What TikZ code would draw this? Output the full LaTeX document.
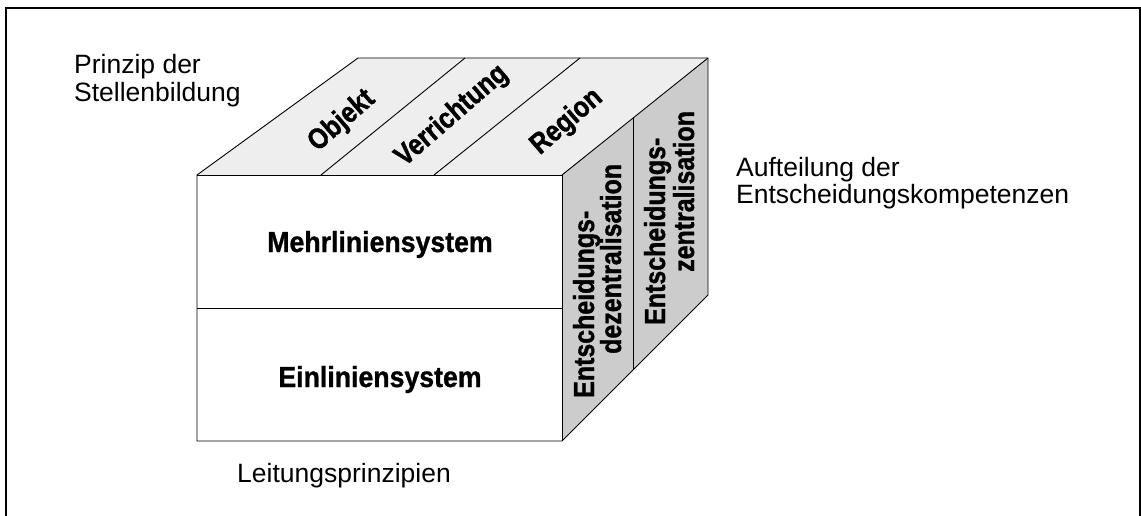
\documentclass[tikz,border=0pt]{standalone}
\usepackage{fontspec}
\setmainfont{Liberation Sans}
\newfontfamily\condsans[FakeStretch=0.86,FakeBold=1.2]{Liberation Sans Bold}
\newfontfamily\semicondsans[FakeStretch=0.92,FakeBold=1.0]{Liberation Sans Bold}
\definecolor{topgray}{gray}{0.935}
\definecolor{sidegray}{gray}{0.80}
\begin{document}
\begin{tikzpicture}[x=1pt,y=-1pt,
  edge/.style={draw=black, line width=0.9pt, line join=miter},
  plain/.style={inner sep=0pt, font=\fontsize{26.5}{28}\selectfont, align=left, anchor=base west},
  facelabel/.style={inner sep=0pt, font=\semicondsans\fontsize{29}{30}\selectfont, anchor=base},
  sidelabel/.style={inner sep=0pt, font=\condsans\fontsize{29}{30}\selectfont, rotate=90, anchor=base west},
  toplabel/.style={inner sep=0pt, font=\condsans\fontsize{29}{30}\selectfont, rotate=41, anchor=center}]
\useasboundingbox (0,0) rectangle (1141,516);

% open frame
\draw[line width=1.4pt] (6,516) -- (6,8) -- (1140,8) -- (1140,516);

% cube corners
\coordinate (FTL) at (197,175);
\coordinate (FTR) at (562,175);
\coordinate (FML) at (197,308);
\coordinate (FMR) at (562,308);
\coordinate (FBL) at (197,441);
\coordinate (FBR) at (562,441);
\coordinate (BTL) at (358,58);
\coordinate (BTR) at (708,58);
\coordinate (BBR) at (708,295);
% strip dividers on top and side
\coordinate (T1f) at (321,175);
\coordinate (T1b) at (465,58);
\coordinate (T2f) at (434,175);
\coordinate (T2b) at (580,58);
\coordinate (S1t) at (633,118);
\coordinate (S1b) at (633,370);

% faces
\fill[topgray] (FTL) -- (BTL) -- (BTR) -- (FTR) -- cycle;
\fill[sidegray] (FTR) -- (BTR) -- (BBR) -- (FBR) -- cycle;
\fill[white] (FTL) rectangle (FBR);

% edges
\draw[edge] (FTL) -- (BTL) -- (BTR) -- (BBR) -- (FBR) -- (FBL) -- cycle;
\draw[edge] (FTL) -- (FTR) -- (FBR);
\draw[edge] (FTR) -- (BTR);
\draw[edge] (FML) -- (FMR);
\draw[edge] (T1f) -- (T1b);
\draw[edge] (T2f) -- (T2b);
\draw[edge] (S1t) -- (S1b);

% front face labels
\node[facelabel] (mehr) at (380,252) {Mehrliniensystem};
\node[facelabel] (ein) at (380,387) {Einliniensystem};

% top face labels
\node[toplabel] (obj) at (342,121) {Objekt};
\node[toplabel] (ver) at (452,116) {Verrichtung};
\node[toplabel] (reg) at (567,122) {Region};

% side face labels
\node[sidelabel] (dz1) at (594,398) {Entscheidungs-};
\node[sidelabel] (dz2) at (621,354) {dezentralisation};
\node[sidelabel] (zt1) at (665,325) {Entscheidungs-};
\node[sidelabel] (zt2) at (694,272) {zentralisation};

% axis captions
\node[plain] (prinzip) at (74,102) {Prinzip der\\Stellenbildung};
\node[plain] (aufteil) at (736,204) {Aufteilung der\\Entscheidungskompetenzen};
\node[plain] (leitung) at (237,482) {Leitungsprinzipien};
\end{tikzpicture}
\end{document}
